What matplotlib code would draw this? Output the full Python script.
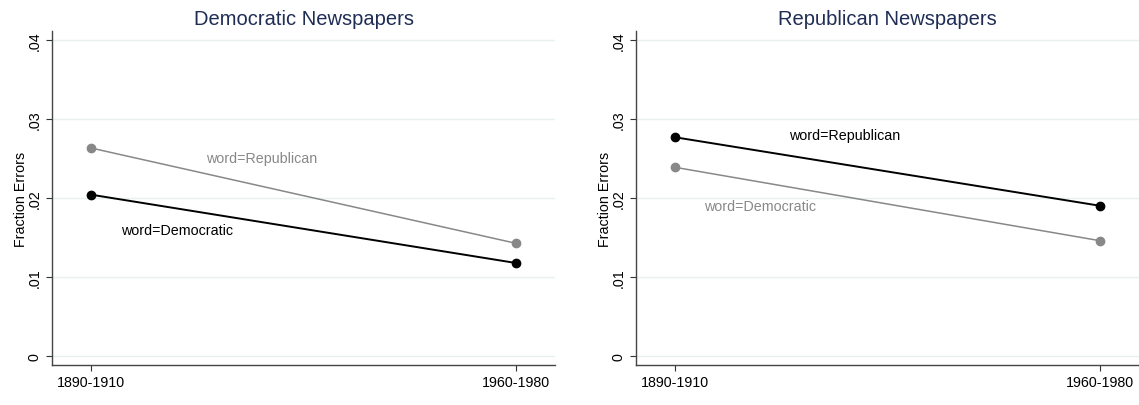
import matplotlib.pyplot as plt

plt.rcParams["font.family"] = ["Liberation Sans", "DejaVu Sans"]

# Fraction of OCR errors by period, for each newspaper party
periods = ["1890-1910", "1960-1980"]
dem_papers_dem_word = [0.0204, 0.01176]
dem_papers_rep_word = [0.0263, 0.01425]
rep_papers_rep_word = [0.02766, 0.0190]
rep_papers_dem_word = [0.02386, 0.01458]

y_ticks = [0, 0.01, 0.02, 0.03, 0.04]
y_tick_labels = ["0", ".01", ".02", ".03", ".04"]

title_color = "#1f2d55"
grid_color = "#e8f0f1"
own_color = "black"
other_color = "#888888"

fig = plt.figure(figsize=(11.39, 4.06), dpi=100)
ax_left = fig.add_axes([0.0457, 0.0985, 0.4416, 0.8227])
ax_right = fig.add_axes([0.5584, 0.0985, 0.4416, 0.8227])

panels = [
    (ax_left, "Democratic Newspapers",
     dem_papers_dem_word, "word=Democratic", (0.202, 0.01597),
     dem_papers_rep_word, "word=Republican", (0.401, 0.02504)),
    (ax_right, "Republican Newspapers",
     rep_papers_rep_word, "word=Republican", (0.40, 0.0280),
     rep_papers_dem_word, "word=Democratic", (0.199, 0.01893)),
]

x = list(range(len(periods)))

for ax, title, own, own_label, own_pos, other, other_label, other_pos in panels:
    ax.plot(x, other, color=other_color, lw=1.1, marker="o", ms=6, zorder=3)
    ax.plot(x, own, color=own_color, lw=1.4, marker="o", ms=6, zorder=4)
    ax.text(own_pos[0], own_pos[1], own_label, color=own_color,
            fontsize=10.3, ha="center", va="center")
    ax.text(other_pos[0], other_pos[1], other_label, color=other_color,
            fontsize=10.3, ha="center", va="center")

    ax.set_xlim(-0.092, 1.092)
    ax.set_ylim(-0.00114, 0.0411)
    ax.set_xticks(x)
    ax.set_xticklabels(periods, fontsize=10.3)
    ax.set_yticks(y_ticks)
    ax.set_yticklabels(y_tick_labels, fontsize=10.3, rotation=90, va="center")
    ax.tick_params(axis="both", direction="out", length=4.5, width=0.8,
                   color="#333333", pad=3)
    ax.set_ylabel("Fraction Errors", fontsize=10.3, labelpad=0)
    ax.set_title(title, fontsize=14.5, color=title_color, pad=5)

    ax.grid(axis="y", color=grid_color, lw=1)
    ax.set_axisbelow(True)
    for side in ["top", "right"]:
        ax.spines[side].set_visible(False)
    for side in ["left", "bottom"]:
        ax.spines[side].set_color("#444444")
        ax.spines[side].set_linewidth(1)

fig.savefig("out.png", dpi=100)
